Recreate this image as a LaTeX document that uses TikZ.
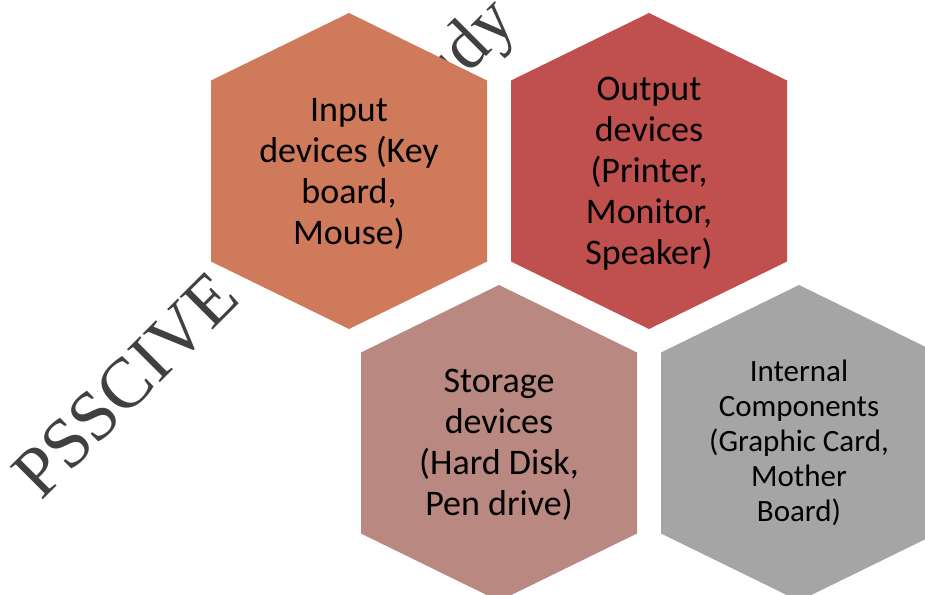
\documentclass[tikz,border=0pt]{standalone}
\usepackage{fontspec}
\setmainfont{Carlito}
\newfontfamily\wmfont{Liberation Serif}
\definecolor{inputfill}{RGB}{208,122,92}
\definecolor{outputfill}{RGB}{192,80,77}
\definecolor{storagefill}{RGB}{185,136,128}
\definecolor{internalfill}{RGB}{165,165,165}
\definecolor{wmgray}{RGB}{64,64,64}
% a stretched, pointy-topped hexagon: #1 = centre x, #2 = top y, #3 = fill colour
\newcommand\hexcell[3]{%
  \fill[#3] (#1,#2) -- ++(138,67.5) -- ++(0,181) -- ++(-138,67.5)
    -- ++(-138,-67.5) -- ++(0,-181) -- cycle;}
\begin{document}
\begin{tikzpicture}[x=1pt,y=-1pt,
  celltext/.style={align=center,text=black,inner sep=0pt,
    font=\fontsize{36}{41}\selectfont},
  smalltext/.style={celltext,font=\fontsize{31}{35}\selectfont}]
\useasboundingbox (0,0) rectangle (925,594);
\fill[white] (0,0) rectangle (925,594);

% watermark, behind the cells
\node[rotate=45,anchor=base west,inner sep=0pt,text=wmgray,
  font=\wmfont\fontsize{71}{71}\selectfont] (wm) at (41,502)
  {\spaceskip=38pt\relax PSSCIVE Draft Study Material};

\hexcell{349}{13}{inputfill}
\hexcell{649}{13}{outputfill}
\hexcell{499}{285}{storagefill}
\hexcell{799}{285}{internalfill}

\node[celltext] (input) at (349,174) {Input\\devices (Key\\board,\\Mouse)};
\node[celltext] (output) at (649,173.5) {Output\\devices\\(Printer,\\Monitor,\\Speaker)};
\node[celltext] (storage) at (499,445) {Storage\\devices\\(Hard Disk,\\Pen drive)};
\node[smalltext] (internal) at (799,443) {Internal\\Components\\(Graphic Card,\\Mother\\Board)};
\end{tikzpicture}
\end{document}
